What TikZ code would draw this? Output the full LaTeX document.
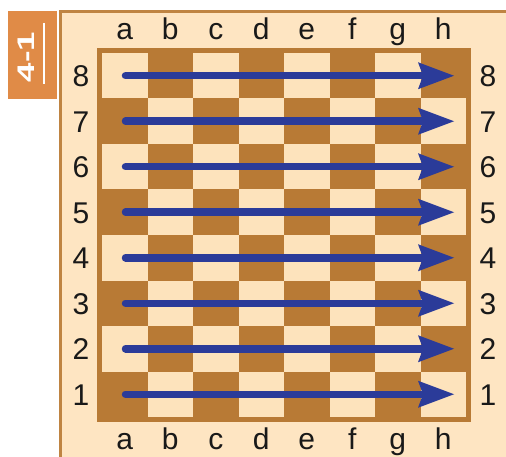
\documentclass[tikz,border=0pt]{standalone}
\usepackage{fontspec}
\setmainfont{Liberation Sans}
\usetikzlibrary{arrows.meta}
\definecolor{cream}{HTML}{FEE5C2}
\definecolor{lightsq}{HTML}{FDE3BC}
\definecolor{darksq}{HTML}{B87A35}
\definecolor{framec}{HTML}{BF8442}
\definecolor{tagc}{HTML}{E08B47}
\definecolor{arrowc}{HTML}{2B3B99}
\tikzset{
  coordlbl/.style={font=\fontsize{30}{30}\selectfont, text=black!90, inner sep=0pt},
  rowarrow/.style={draw=arrowc, line width=7.5pt, line cap=round,
    -{Stealth[length=36pt, width=27pt, inset=5pt, line width=0pt]}},
}
\begin{document}
\begin{tikzpicture}[x=1pt, y=-1pt]
\useasboundingbox (0,0) rectangle (506,457);
% outer frame
\node[draw=framec, line width=3pt, fill=cream, minimum width=470pt, minimum height=460pt, anchor=north west, inner sep=0pt] (frame) at (58.5,10.5) {};
% tag
\node[fill=tagc, minimum width=49pt, minimum height=88pt, anchor=north west, inner sep=0pt] (tag) at (8,11) {};
\node[rotate=90, text=white, font=\bfseries\fontsize{24}{24}\selectfont, inner sep=0pt] (taglbl) at (26.5,57) {\scalebox{1.45}[1]{4-1}};
\draw[white, line width=1.6pt] (44,23) -- (44,84);
% board
\node[fill=darksq, minimum width=374pt, minimum height=374pt, anchor=north west, inner sep=0pt] (board) at (97,48) {};
\foreach \i in {0,...,7} {
  \foreach \j in {0,...,7} {
    \pgfmathtruncatemacro{\sqpar}{mod(\i+\j,2)}
    \ifnum\sqpar=0
      \fill[lightsq] ({102+45.5*\i},{53+45.5*\j}) rectangle ++(45.5,45.5);
    \fi
  }
}
% file labels
\foreach \f [count=\i from 0] in {a,b,c,d,e,f,g,h} {
  \node[coordlbl, anchor=base] (top\f) at ({102+45.5*(\i+0.5)},40) {\f};
  \node[coordlbl, anchor=base] (bot\f) at ({102+45.5*(\i+0.5)},449) {\f};
}
% rank labels and arrows
\foreach \r [count=\j from 0] in {8,7,6,5,4,3,2,1} {
  \node[coordlbl, anchor=base] (left\r) at (81,{53+45.5*(\j+0.5)+11}) {\r};
  \node[coordlbl, anchor=base] (right\r) at (488,{53+45.5*(\j+0.5)+11}) {\r};
  \coordinate (s\r) at (125.5,{53+45.5*(\j+0.5)});
  \coordinate (e\r) at (454,{53+45.5*(\j+0.5)});
  \draw[rowarrow] (s\r) -- (e\r);
}
\end{tikzpicture}
\end{document}
